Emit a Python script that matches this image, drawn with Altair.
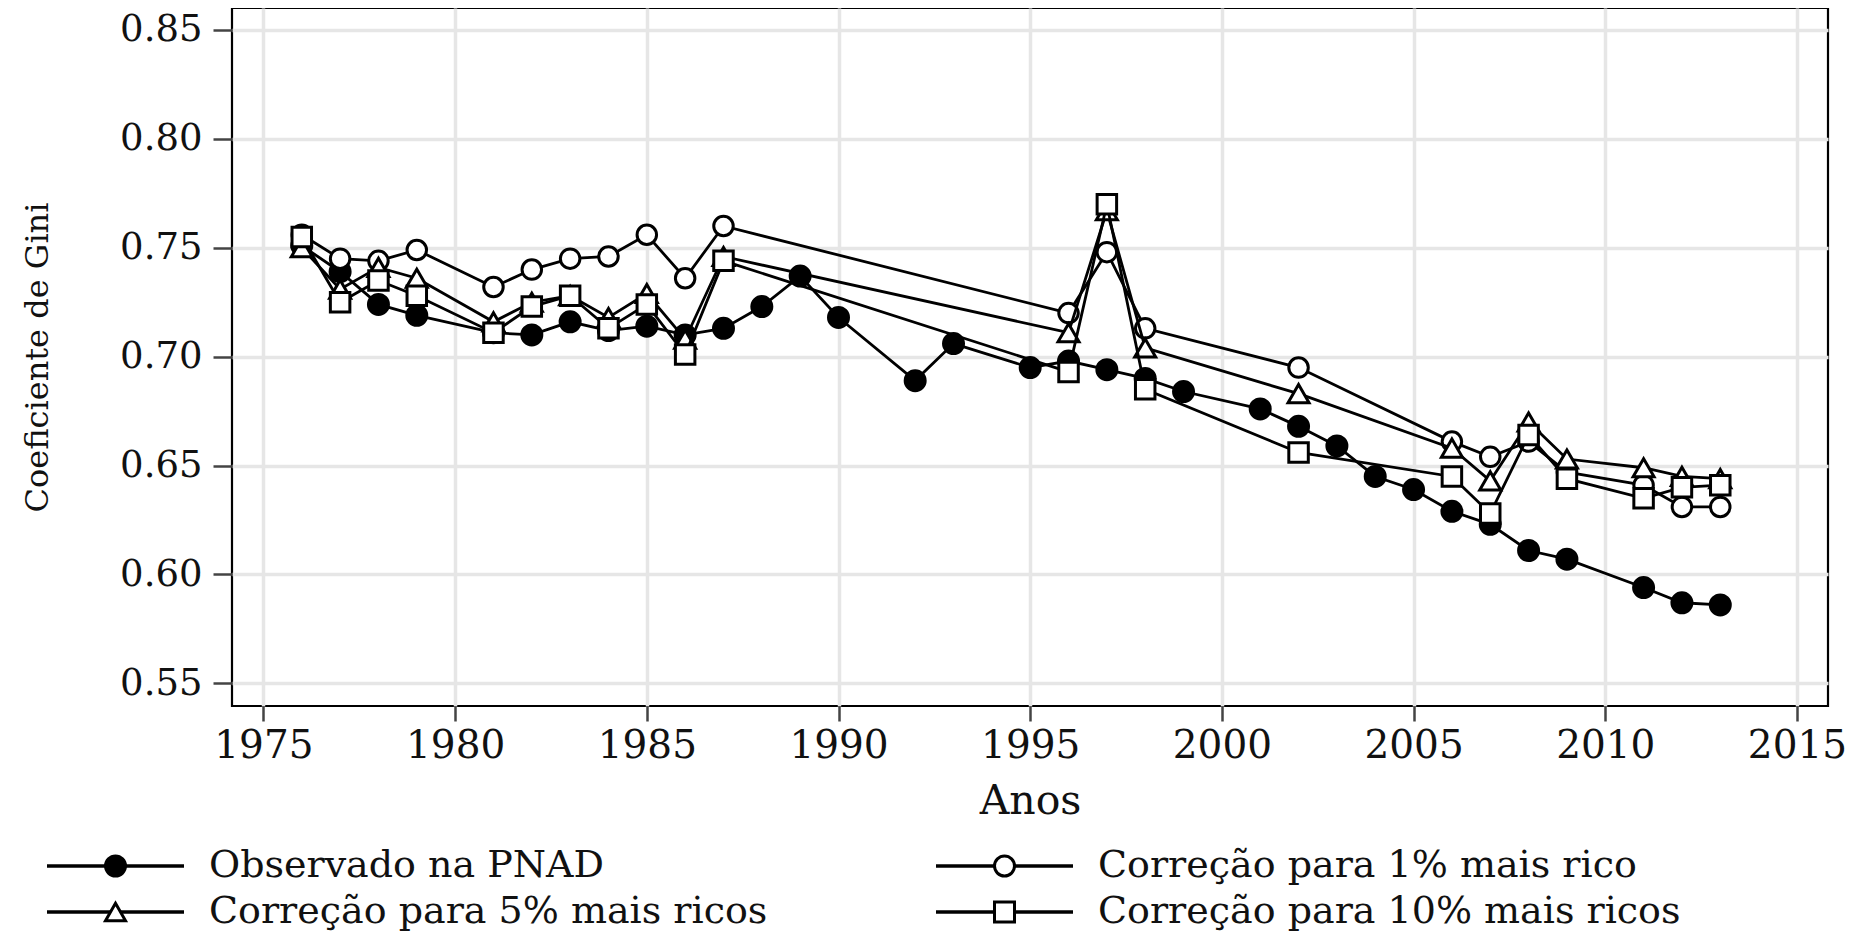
import altair as alt
import pandas as pd

# ---------------- data ----------------
years_pnad = [1976, 1977, 1978, 1979, 1981, 1982, 1983, 1984, 1985, 1986, 1987,
              1988, 1989, 1990, 1992, 1993, 1995, 1996, 1997, 1998, 1999, 2001,
              2002, 2003, 2004, 2005, 2006, 2007, 2008, 2009, 2011, 2012, 2013]
gini_pnad = [0.751, 0.739, 0.724, 0.719, 0.711, 0.710, 0.716, 0.712, 0.714, 0.710, 0.713,
             0.723, 0.737, 0.718, 0.689, 0.706, 0.695, 0.698, 0.694, 0.690, 0.684, 0.676,
             0.668, 0.659, 0.645, 0.639, 0.629, 0.623, 0.611, 0.607, 0.594, 0.587, 0.586]

years_corr = [1976, 1977, 1978, 1979, 1981, 1982, 1983, 1984, 1985, 1986, 1987,
              1996, 1997, 1998, 2002, 2006, 2007, 2008, 2009, 2011, 2012, 2013]
gini_top1 = [0.756, 0.745, 0.744, 0.749, 0.732, 0.740, 0.745, 0.746, 0.756, 0.736, 0.760,
             0.720, 0.748, 0.713, 0.695, 0.661, 0.654, 0.661, 0.647, 0.641, 0.631, 0.631]
gini_top5 = [0.750, 0.731, 0.741, 0.736, 0.716, 0.725, 0.728, 0.718, 0.729, 0.708, 0.746,
             0.711, 0.767, 0.704, 0.683, 0.658, 0.643, 0.670, 0.653, 0.649, 0.645, 0.644]
gini_top10 = [0.755, 0.725, 0.735, 0.728, 0.711, 0.723, 0.728, 0.713, 0.724, 0.701, 0.744,
              0.693, 0.770, 0.685, 0.656, 0.645, 0.628, 0.664, 0.644, 0.635, 0.640, 0.641]

series_names = ["Observado na PNAD",
                "Correção para 1% mais rico",
                "Correção para 5% mais ricos",
                "Correção para 10% mais ricos"]
x_ticks = [1975, 1980, 1985, 1990, 1995, 2000, 2005, 2010, 2015]
y_ticks = [0.55, 0.60, 0.65, 0.70, 0.75, 0.80, 0.85]

# ---------------- styles ----------------
shapes = ["circle", "circle", "triangle-up", "square"]
fills = ["black", "white", "white", "white"]
sizes = [400, 380, 440, 380]
FONT = "DejaVu Serif"
W, H = 1596, 698

rows = []
for yr, g in zip(years_pnad, gini_pnad):
    rows.append({"ano": yr, "gini": g, "serie": series_names[0]})
for vals, name in zip([gini_top1, gini_top5, gini_top10], series_names[1:]):
    for yr, g in zip(years_corr, vals):
        rows.append({"ano": yr, "gini": g, "serie": name})
df = pd.DataFrame(rows)

x_scale = alt.Scale(domain=[1974.18, 2015.81], nice=False, zero=False)
y_scale = alt.Scale(domain=[0.5396, 0.8601], nice=False, zero=False)

x_axis = alt.Axis(values=x_ticks, format="d", title="Anos", grid=True,
                  gridColor="#e6e6e6", gridWidth=3.5, domain=False,
                  tickSize=15, tickWidth=2.5, tickColor="#444",
                  labelFont=FONT, labelFontSize=39, labelColor="#111",
                  labelPadding=5, labelFlush=False, labelOverlap=False,
                  titleFont=FONT, titleFontSize=41, titleFontWeight="normal",
                  titleColor="#111", titleBaseline="alphabetic", titleY=107)
y_axis = alt.Axis(values=y_ticks, format=".2f", title="Coeficiente de Gini", grid=True,
                  gridColor="#e6e6e6", gridWidth=3.5, domain=False,
                  tickSize=19, tickWidth=2.5, tickColor="#444",
                  labelFont=FONT, labelFontSize=37, labelColor="#111",
                  labelPadding=11, labelFlush=False, labelOverlap=False,
                  titleFont=FONT, titleFontSize=32, titleFontWeight="normal",
                  titleColor="#111", titleBaseline="alphabetic",
                  titleX=-185, titleY=H / 2)

layers = []
for i, name in enumerate(series_names):
    base = alt.Chart(df).transform_filter(alt.datum.serie == name)
    enc = dict(x=alt.X("ano:Q", scale=x_scale, axis=x_axis),
               y=alt.Y("gini:Q", scale=y_scale, axis=y_axis))
    layers.append(base.mark_line(color="black", strokeWidth=2.8).encode(**enc))
    layers.append(base.mark_point(shape=shapes[i], filled=True, fill=fills[i],
                                  stroke="black", strokeWidth=3, size=sizes[i],
                                  opacity=1).encode(**enc))
data_layer = alt.layer(*layers)

# ---------------- custom legend (line + marker + label) ----------------
leg = pd.DataFrame({"serie": series_names, "idx": list(range(len(series_names)))})
leg_base = alt.Chart(leg).transform_calculate(
    col="datum.idx % 2", row="floor(datum.idx / 2)"
).transform_calculate(
    x0="datum.col == 0 ? -185 : 704", yy="858 + datum.row * 46"
).transform_calculate(
    x1="datum.x0 + 137", xm="datum.x0 + 68.5", xt="datum.x0 + 162"
)
lx = alt.Scale(domain=[0, W], nice=False, zero=False)
ly = alt.Scale(domain=[0, H], reverse=True, nice=False, zero=False)
leg_rule = leg_base.mark_rule(color="black", strokeWidth=3.5).encode(
    x=alt.X("x0:Q", scale=lx, axis=None), x2="x1:Q",
    y=alt.Y("yy:Q", scale=ly, axis=None))
leg_pts = leg_base.mark_point(filled=True, stroke="black", strokeWidth=3,
                              size=400, opacity=1).encode(
    x=alt.X("xm:Q", scale=lx, axis=None),
    y=alt.Y("yy:Q", scale=ly, axis=None),
    shape=alt.Shape("serie:N", scale=alt.Scale(domain=series_names, range=shapes), legend=None),
    fill=alt.Fill("serie:N", scale=alt.Scale(domain=series_names, range=fills), legend=None))
leg_txt = leg_base.mark_text(align="left", baseline="middle", font=FONT,
                             fontSize=38, color="#111").encode(
    x=alt.X("xt:Q", scale=lx, axis=None),
    y=alt.Y("yy:Q", scale=ly, axis=None),
    text="serie:N")
legend_layer = alt.layer(leg_rule, leg_pts, leg_txt)

chart = alt.layer(data_layer, legend_layer).resolve_scale(
    x="independent", y="independent"
).properties(
    width=W, height=H,
    padding={"left": 224, "top": 0, "right": 20, "bottom": 233},
    autosize=alt.AutoSizeParams(type="none"),
).configure_view(stroke="black", strokeWidth=2.2)

chart.save("out.html", embed_options={"renderer": "svg", "actions": False})
